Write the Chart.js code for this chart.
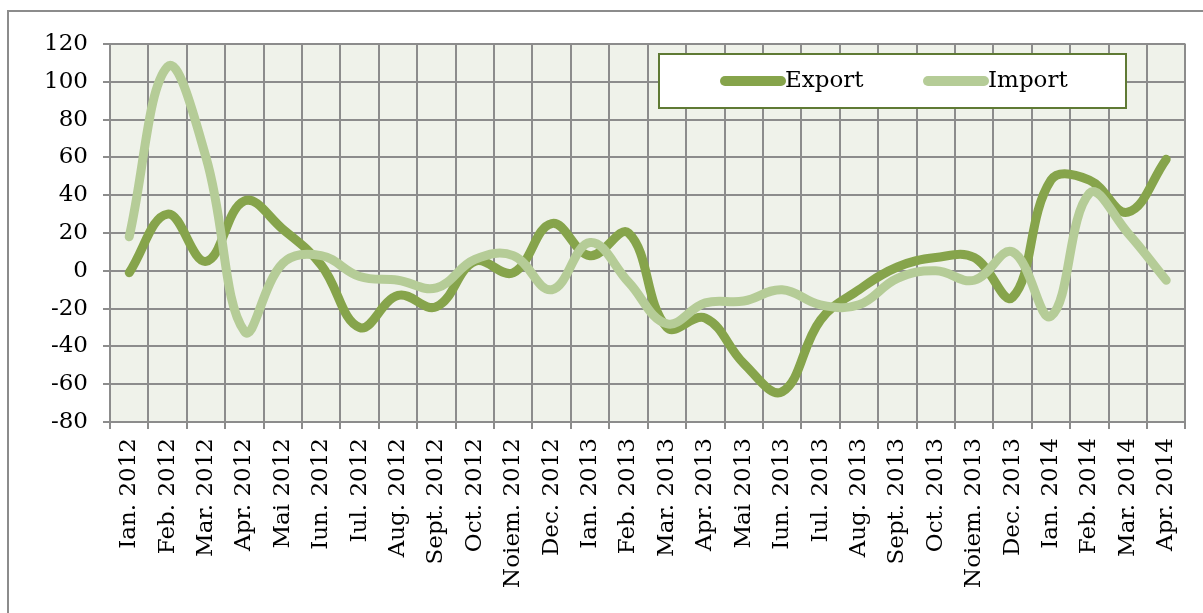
<!DOCTYPE html>
<html>
<head>
<meta charset="utf-8">
<title>Export / Import</title>
<script src="https://cdn.jsdelivr.net/npm/chart.js@4"></script>
<style>
  html, body { margin: 0; padding: 0; background: #fff; }
  canvas { display: block; }
</style>
</head>
<body>
<canvas id="grafic" width="1203" height="613"></canvas>
<script>
const luni = [
  "Ian. 2012", "Feb. 2012", "Mar. 2012", "Apr. 2012", "Mai 2012", "Iun. 2012",
  "Iul. 2012", "Aug. 2012", "Sept. 2012", "Oct. 2012", "Noiem. 2012", "Dec. 2012",
  "Ian. 2013", "Feb. 2013", "Mar. 2013", "Apr. 2013", "Mai 2013", "Iun. 2013",
  "Iul. 2013", "Aug. 2013", "Sept. 2013", "Oct. 2013", "Noiem. 2013", "Dec. 2013",
  "Ian. 2014", "Feb. 2014", "Mar. 2014", "Apr. 2014"
];
const exportVals = [
  -1, 30, 5, 37, 22, 3, -30, -13, -19, 5, -1, 25,
  8, 20, -30, -25, -49, -64, -26, -10, 2, 7, 7, -14,
  48, 48, 31, 59
];
const importVals = [
  18, 108, 60, -32, 4, 8, -3, -5, -9, 6, 8, -10,
  15, -6, -28, -17, -16, -10, -18, -18, -4, 0, -5, 10,
  -24, 41, 20, -5
];
const yTicks = { min: -80, max: 120, step: 20 };

const font = "DejaVu Serif";
const verdeInchis = "#86a44b";
const verdeDeschis = "#b5cc97";

// rama exterioara si fundalul zonei de grafic
const fundal = {
  id: "fundal",
  beforeDraw(chart) {
    const { ctx, chartArea: a } = chart;
    ctx.save();
    ctx.strokeStyle = "#8c8c8c";
    ctx.lineWidth = 2;
    ctx.strokeRect(8, 11, 1400, 1000);
    ctx.fillStyle = "#eff2ea";
    ctx.fillRect(a.left, a.top, a.right - a.left, a.bottom - a.top);
    ctx.restore();
  }
};

// legenda in caseta alba, peste grila
const legenda = {
  id: "legenda",
  afterDraw(chart) {
    const ctx = chart.ctx;
    ctx.save();
    ctx.fillStyle = "#fff";
    ctx.fillRect(659, 54, 467, 54);
    ctx.strokeStyle = "#5f7a34";
    ctx.lineWidth = 2;
    ctx.strokeRect(659, 54, 467, 54);
    const pozitii = [725, 928];
    ctx.font = "23px '" + font + "'";
    ctx.textBaseline = "middle";
    chart.data.datasets.forEach((ds, i) => {
      const x = pozitii[i];
      ctx.strokeStyle = ds.borderColor;
      ctx.lineWidth = 10;
      ctx.lineCap = "round";
      ctx.beginPath();
      ctx.moveTo(x, 81);
      ctx.lineTo(x + 56, 81);
      ctx.stroke();
      ctx.fillStyle = "#000";
      ctx.fillText(ds.label, x + 60, 81);
    });
    ctx.restore();
  }
};

new Chart(document.getElementById("grafic"), {
  type: "line",
  data: {
    labels: luni,
    datasets: [{
      label: "Export",
      data: exportVals,
      borderColor: verdeInchis,
      borderWidth: 9,
      order: 1
    }, {
      label: "Import",
      data: importVals,
      borderColor: verdeDeschis,
      borderWidth: 9,
      order: 0
    }]
  },
  options: {
    responsive: false,
    animation: false,
    layout: { padding: { left: 0, top: 44, right: 9, bottom: 0 } },
    elements: {
      line: { tension: 0.4, borderCapStyle: "round", borderJoinStyle: "round" },
      point: { radius: 0, hoverRadius: 0 }
    },
    plugins: {
      legend: { display: false },
      tooltip: { enabled: false }
    },
    scales: {
      x: {
        offset: true,
        grid: { offset: true, color: "#8c8c8c", lineWidth: 2, tickLength: 7 },
        border: { color: "#8c8c8c", width: 2 },
        ticks: {
          autoSkip: false, minRotation: 90, maxRotation: 90, padding: 9,
          color: "#000", font: { family: font, size: 23 }
        },
        afterFit(scale) { scale.height = 191; }
      },
      y: {
        min: yTicks.min,
        max: yTicks.max,
        grid: { color: "#8c8c8c", lineWidth: 2, tickLength: 7 },
        border: { color: "#8c8c8c", width: 2 },
        ticks: {
          stepSize: yTicks.step, padding: 15,
          color: "#000", font: { family: font, size: 23 }
        },
        afterFit(scale) { scale.width = 110; }
      }
    }
  },
  plugins: [fundal, legenda]
});
</script>
</body>
</html>
